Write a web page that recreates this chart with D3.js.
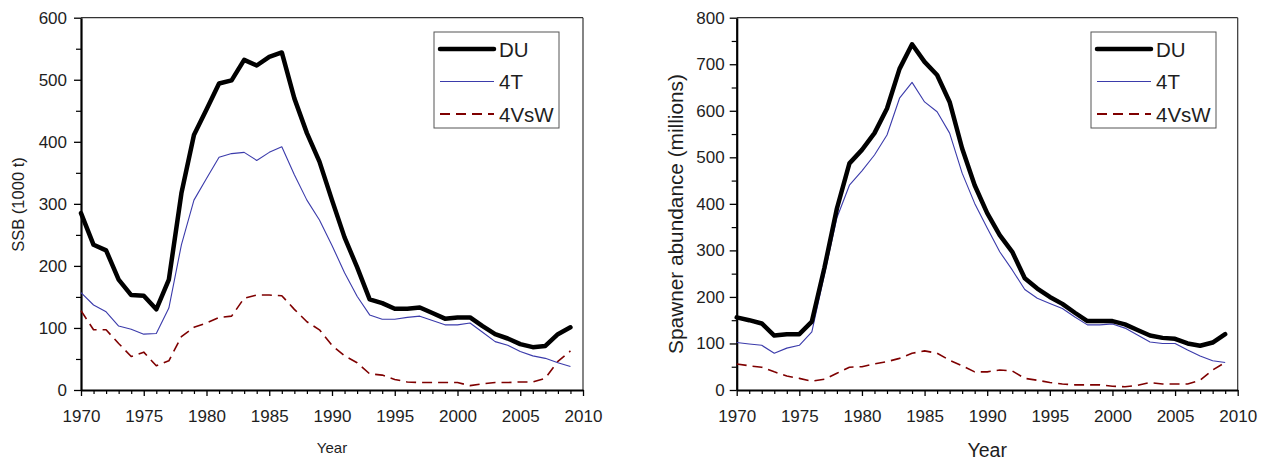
<!DOCTYPE html>
<html>
<head>
<meta charset="utf-8">
<script src="https://cdn.jsdelivr.net/npm/d3@7"></script>
<style>
  html, body { margin: 0; padding: 0; background: #fff; }
  svg { display: block; font-family: "Liberation Sans", Arial, sans-serif; }
</style>
</head>
<body>
<svg id="chart" width="1269" height="460"></svg>
<script>
// Years shared by both panels
const years = [1970,1971,1972,1973,1974,1975,1976,1977,1978,1979,
               1980,1981,1982,1983,1984,1985,1986,1987,1988,1989,
               1990,1991,1992,1993,1994,1995,1996,1997,1998,1999,
               2000,2001,2002,2003,2004,2005,2006,2007,2008,2009];

// Spawning stock biomass (1000 t)
const ssbDU   = [285,234,225,178,153,152,130,178,317,411,452,494,499,532,523,537,544,470,414,368,
                 306,246,198,146,140,131,131,133,124,115,117,117,103,90,83,74,69,71,90,101];
const ssb4T   = [157,137,126,103,98,90,91,132,234,306,341,375,381,383,370,383,392,347,306,274,
                 233,189,151,121,114,114,117,119,112,105,105,108,93,78,72,62,55,51,44,38];
const ssb4VsW = [128,97,97,75,54,61,39,47,86,101,108,117,119,148,153,153,152,130,110,97,
                 72,55,44,26,24,17,13,12,12,12,12,7,10,12,12,13,13,19,46,63];

// Spawner abundance (millions)
const spDU    = [156,150,143,117,120,120,147,262,390,487,516,552,605,690,743,705,677,619,519,440,
                 380,333,297,240,218,200,185,166,148,148,148,141,129,117,112,110,100,95,102,120];
const sp4T    = [102,99,96,79,90,96,125,248,370,440,471,505,548,627,661,619,598,552,466,401,
                 348,297,258,216,197,186,175,157,140,140,142,133,118,103,100,100,86,73,63,59];
const sp4VsW  = [56,52,49,39,30,25,19,23,36,49,50,56,61,68,79,84,79,64,52,39,
                 39,43,41,25,21,16,13,11,11,11,8,7,10,16,13,13,13,21,43,59];

// Axis tick values
const xMajorTicks = [1970,1975,1980,1985,1990,1995,2000,2005,2010];
const ssbTicks = [0,100,200,300,400,500,600];
const spTicks  = [0,100,200,300,400,500,600,700,800];

const seriesNames = ["DU", "4T", "4VsW"];

const styles = {
  "DU":   { stroke: "#000000", width: 4.5, dash: null },
  "4T":   { stroke: "#3b3bab", width: 1.1, dash: null },
  "4VsW": { stroke: "#7f0000", width: 1.6, dash: "10,6" }
};

const svg = d3.select("#chart");
const textColor = "#1e1e1e";

function panel(cfg) {
  const x = d3.scaleLinear().domain([1970, 2010]).range([cfg.x0, cfg.x1]);
  const y = d3.scaleLinear().domain([0, cfg.yMax]).range([390, 17.7]);
  const g = svg.append("g");

  // frame: thin top/right
  g.append("line").attr("x1", cfg.x0).attr("x2", cfg.x1).attr("y1", y(cfg.yMax)).attr("y2", y(cfg.yMax))
    .attr("stroke", "#333").attr("stroke-width", 1.2);
  g.append("line").attr("x1", cfg.x1).attr("x2", cfg.x1).attr("y1", y(cfg.yMax)).attr("y2", y(0))
    .attr("stroke", "#333").attr("stroke-width", 1.2);

  // minor ticks
  const minorY = d3.range(0, cfg.yMax + 1, 50).filter(v => v % 100 !== 0);
  g.append("g").attr("transform", `translate(${cfg.x0},0)`)
    .call(d3.axisLeft(y).tickValues(minorY).tickSize(5).tickFormat(""))
    .call(a => a.select(".domain").remove())
    .selectAll("line").attr("stroke", "#000").attr("stroke-width", 1.2);
  const minorX = d3.range(1970, 2011).filter(v => v % 5 !== 0);
  g.append("g").attr("transform", `translate(0,${y(0)})`)
    .call(d3.axisBottom(x).tickValues(minorX).tickSize(4).tickFormat(""))
    .call(a => a.select(".domain").remove())
    .selectAll("line").attr("stroke", "#000").attr("stroke-width", 1.2);

  // major y axis
  const ya = g.append("g").attr("transform", `translate(${cfg.x0},0)`)
    .call(d3.axisLeft(y).tickValues(cfg.yTicks).tickSize(7).tickPadding(cfg.yPad).tickSizeOuter(0));
  ya.select(".domain").attr("stroke", "#000").attr("stroke-width", 2.2);
  ya.selectAll(".tick line").attr("stroke", "#000").attr("stroke-width", 1.3);
  ya.selectAll("text").attr("fill", textColor).style("font-size", "17px")
    .style("font-family", "Liberation Sans, Arial, sans-serif");

  // major x axis
  const xa = g.append("g").attr("transform", `translate(0,${y(0)})`)
    .call(d3.axisBottom(x).tickValues(xMajorTicks).tickSize(6).tickPadding(14).tickSizeOuter(0).tickFormat(d3.format("d")));
  xa.select(".domain").attr("stroke", "#000").attr("stroke-width", 2.2);
  xa.selectAll(".tick line").attr("stroke", "#000").attr("stroke-width", 1.3);
  xa.selectAll("text").attr("fill", textColor).style("font-size", "17px")
    .style("font-family", "Liberation Sans, Arial, sans-serif");

  // series lines
  const line = d3.line().x((d, i) => x(years[i])).y(d => y(d));
  const order = ["4VsW", "4T", "DU"];
  order.forEach(name => {
    const s = styles[name];
    g.append("path").datum(cfg.data[name]).attr("d", line)
      .attr("fill", "none").attr("stroke", s.stroke).attr("stroke-width", s.width)
      .attr("stroke-linejoin", "round").attr("stroke-linecap", name === "DU" ? "round" : "butt")
      .attr("stroke-dasharray", s.dash);
  });

  // axis titles
  g.append("text").attr("x", (cfg.x0 + cfg.x1) / 2).attr("y", cfg.xTitleY)
    .attr("text-anchor", "middle").attr("fill", textColor)
    .style("font-size", cfg.xTitleSize + "px").text("Year");
  g.append("text").attr("transform", `translate(${cfg.yTitleX},${cfg.yTitleMid}) rotate(-90)`)
    .attr("text-anchor", "middle").attr("fill", textColor)
    .style("font-size", cfg.yTitleSize + "px").text(cfg.yTitle);

  // legend
  const lg = g.append("g");
  lg.append("rect").attr("x", cfg.legX).attr("y", 32).attr("width", 125).attr("height", 96)
    .attr("fill", "#fff").attr("stroke", "#555").attr("stroke-width", 1);
  seriesNames.forEach((name, i) => {
    const s = styles[name];
    const yy = 49 + i * 32.5;
    lg.append("line").attr("x1", cfg.legX + 6).attr("x2", cfg.legX + 60).attr("y1", yy).attr("y2", yy)
      .attr("stroke", s.stroke).attr("stroke-width", name === "DU" ? 4.5 : (name === "4VsW" ? 2 : 1.1))
      .attr("stroke-linecap", name === "DU" ? "round" : "butt")
      .attr("stroke-dasharray", s.dash);
    lg.append("text").attr("x", cfg.legX + 65).attr("y", yy + 7.5)
      .attr("fill", textColor).style("font-size", "20.5px").text(name);
  });
}

panel({
  x0: 81, x1: 583, yMax: 600, yTicks: ssbTicks, yPad: 7,
  data: { "DU": ssbDU, "4T": ssb4T, "4VsW": ssb4VsW },
  xTitleY: 453, xTitleSize: 15,
  yTitle: "SSB (1000 t)", yTitleX: 24, yTitleMid: 204.5, yTitleSize: 16.5,
  legX: 434
});

panel({
  x0: 736.7, x1: 1237.7, yMax: 800, yTicks: spTicks, yPad: 5,
  data: { "DU": spDU, "4T": sp4T, "4VsW": sp4VsW },
  xTitleY: 457, xTitleSize: 19.5,
  yTitle: "Spawner abundance (millions)", yTitleX: 683, yTitleMid: 214, yTitleSize: 20.8,
  legX: 1091
});
</script>
</body>
</html>
